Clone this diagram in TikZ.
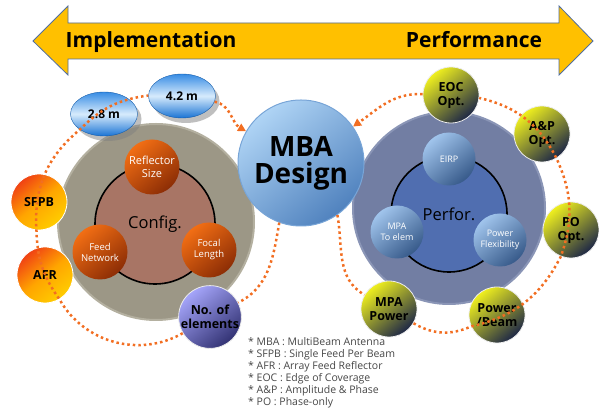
\documentclass[tikz,border=0pt]{standalone}
\usepackage{fontspec}
\setmainfont{Open Sans}
\usetikzlibrary{arrows.meta, shapes.geometric, shadows}

\definecolor{arrowfill}{RGB}{255,192,0}
\definecolor{arrowedge}{RGB}{80,110,160}
\definecolor{dotorange}{RGB}{242,110,34}
\definecolor{configgray}{RGB}{156,151,134}
\definecolor{configrim}{RGB}{180,176,160}
\definecolor{configcore}{RGB}{168,117,101}
\definecolor{perforgray}{RGB}{114,126,163}
\definecolor{perforrim}{RGB}{138,149,182}
\definecolor{perforcore}{RGB}{80,110,176}
\definecolor{partlight}{RGB}{242,110,20}
\definecolor{partdark}{RGB}{140,45,5}
\definecolor{perflight}{RGB}{160,196,236}
\definecolor{perfdark}{RGB}{55,90,138}
\definecolor{feedred}{RGB}{240,65,20}
\definecolor{feedmid}{RGB}{255,165,0}
\definecolor{feedyellow}{RGB}{255,205,0}
\definecolor{elemlight}{RGB}{165,165,250}
\definecolor{elemdark}{RGB}{50,50,115}
\definecolor{mbalight}{RGB}{175,212,245}
\definecolor{mbadark}{RGB}{80,130,190}
\definecolor{mbarim}{RGB}{120,165,215}
\definecolor{glosstop}{RGB}{55,140,228}
\definecolor{glossmid}{RGB}{215,235,252}
\definecolor{glossbot}{RGB}{25,115,212}
\definecolor{optyellow}{RGB}{240,240,30}
\definecolor{optnavy}{RGB}{28,38,70}
\definecolor{notegray}{RGB}{70,70,70}

\begin{document}
\begin{tikzpicture}[x=1pt, y=1pt,
    orb/.style 2 args={circle, inner sep=0pt, align=center, top color=#1, bottom color=#2, shading angle=40},
    partorb/.style={orb={partlight}{partdark}, minimum size=55pt, text=white, font=\fontsize{9.5}{11}\selectfont},
    perforb/.style={orb={perflight}{perfdark}, minimum size=53pt, text=white, font=\fontsize{9}{11}\selectfont},
    feedorb/.style={orb={feedred}{feedyellow}, middle color=feedmid, minimum size=56pt, draw=white, line width=0.8pt, font=\bfseries\fontsize{12.5}{14}\selectfont},
    optorb/.style={orb={optyellow}{optnavy}, minimum size=56pt, draw=white!85!gray, line width=0.8pt, font=\bfseries\fontsize{12.5}{14}\selectfont},
    glossy/.style={ellipse, inner sep=0pt, minimum width=67pt, minimum height=44pt, top color=glosstop, bottom color=glossbot, middle color=glossmid, draw=glossbot!80!black, line width=0.4pt, font=\bfseries\fontsize{12}{14}\selectfont, drop shadow={shadow xshift=4pt, shadow yshift=-5pt, fill=black!50, opacity=0.5}},
    orangedots/.style={draw=dotorange, line width=2.5pt, dash pattern=on 2.5pt off 3pt},
    dotarrow/.style={-{Triangle[length=8pt, width=8pt]}}
  ]
  \useasboundingbox (0,0) rectangle (599,414);

  % double arrow on top
  \draw[fill=arrowfill, draw=arrowedge, line width=0.8pt] (33,373) -- (68,408) -- (68,391) -- (559,391) -- (559,408) -- (593,373) -- (559,339) -- (559,355) -- (68,355) -- (68,339) -- cycle;
  \node(impl) [anchor=base, font=\bfseries\fontsize{21}{24}\selectfont] at (151,366) {Implementation};
  \node(perf) [anchor=base, font=\bfseries\fontsize{21}{24}\selectfont] at (474,366) {Performance};

  % configuration side
  \node(config) [circle, minimum size=196pt, fill=configgray, draw=configrim, line width=2pt] at (156,192) {};
  \node(configin) [circle, minimum size=120pt, fill=configcore, draw=black, line width=1.6pt, font=\fontsize{16.5}{18}\selectfont] at (155,190) {Config.};
  \node(reflector) [partorb, font=\fontsize{11}{12.5}\selectfont] at (152,247) {Reflector\\Size};
  \node(feed) [partorb] at (100,162) {Feed\\Network};
  \node(focal) [partorb] at (209,164) {Focal\\Length};

  % performance side
  \node(perfor) [circle, minimum size=192pt, fill=perforgray, draw=perforrim, line width=2pt] at (449,206) {};
  \node(perforin) [circle, minimum size=116pt, fill=perforcore, draw=black, line width=1.6pt, font=\fontsize{16.5}{18}\selectfont] at (449,200) {Perfor.};
  \node(eirp) [perforb] at (449,255) {EIRP};
  \node(mpaelem) [perforb] at (397,182) {MPA\\To elem};
  \node(flex) [perforb] at (500,174) {Power\\Flexibility};

  % centre
  \node(mba) [orb={mbalight}{mbadark}, minimum size=126pt, draw=mbarim, line width=1pt, font=\bfseries\fontsize{28}{27}\selectfont] at (301,251) {MBA\\Design};

  % options round the configuration
  \node(twoeight) [glossy] at (104,300) {2.8 m};
  \node(fourtwo) [glossy] at (182,318) {4.2 m};
  \node(sfpb) [feedorb] at (39,212) {SFPB};
  \node(afr) [feedorb] at (45,139) {AFR};
  \node(noelem) [orb={elemlight}{elemdark}, minimum size=60pt, draw=white!85!gray, line width=0.8pt, font=\bfseries\fontsize{12.5}{14}\selectfont] at (210,97) {No. of\\elements};

  % options round the performance
  \node(eoc) [optorb] at (451,319) {EOC\\Opt.};
  \node(ap) [optorb] at (542,280) {A\&P\\Opt.};
  \node(po) [optorb] at (571,184) {PO\\Opt.};
  \node(powbeam) [optorb] at (497,99) {Power\\/Beam};
  \node(mpapow) [optorb] at (389,105) {MPA\\Power};

  \draw[orangedots] (mba.-110) to[out=-100, in=27] (noelem) to[bend left=45] (afr) to[bend left=17] (sfpb) to[bend left=27] (twoeight) to[bend left=19] (fourtwo);
  \draw[orangedots, dotarrow] (fourtwo) to[out=-10, in=150] (mba);
  \draw[orangedots] (mba.-55) to[out=-80, in=150] (mpapow) to[bend right=27] (powbeam) to[bend right=25] (po) to[bend right=22] (ap) to[bend right=25] (eoc);
  \draw[orangedots, dotarrow] (eoc) to[out=178, in=35] (mba);

  % abbreviations
  \node(notes) [anchor=north west, align=left, inner sep=0pt, text=notegray, font=\fontsize{10.5}{12}\selectfont] at (248,77) {* MBA : MultiBeam Antenna\\* SFPB : Single Feed Per Beam\\* AFR : Array Feed Reflector\\* EOC : Edge of Coverage\\* A\&P : Amplitude \& Phase\\* PO : Phase-only};
\end{tikzpicture}
\end{document}
